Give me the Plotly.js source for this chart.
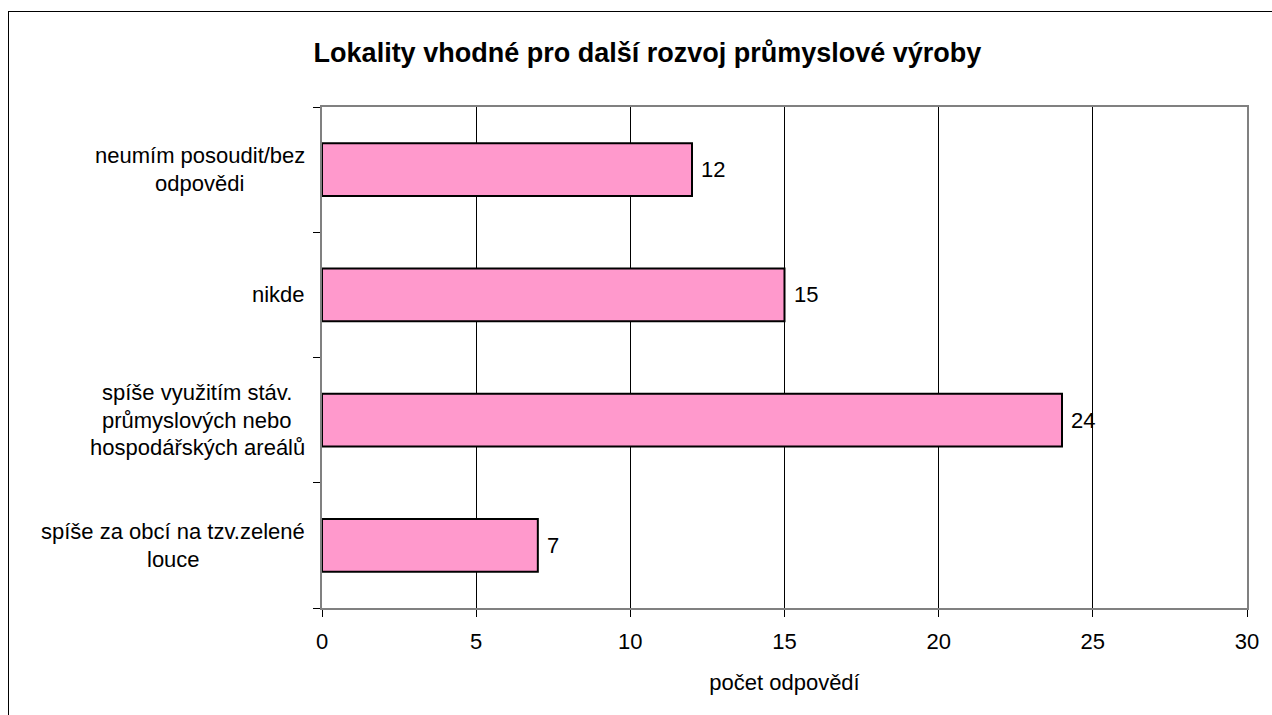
<!DOCTYPE html>
<html>
<head>
<meta charset="utf-8">
<script src="https://cdn.plot.ly/plotly-3.0.1.min.js"></script>
<style>
html,body{margin:0;padding:0;background:#fff;overflow:hidden;}
#frame{position:absolute;left:8px;top:11px;width:1300px;height:760px;border:1.5px solid #000;box-sizing:border-box;pointer-events:none;z-index:5;}
#chart{position:absolute;left:0;top:0;width:1272px;height:715px;}
</style>
</head>
<body>
<div id="chart"></div>
<div id="frame"></div>
<script>
const categories = [
  "spíše za obcí na tzv.zelené<br>louce",
  "spíše využitím stáv.<br>průmyslových nebo<br>hospodářských areálů",
  "nikde",
  "neumím posoudit/bez<br>odpovědi"
];
const values = [7, 24, 15, 12];
const xTicks = [0, 5, 10, 15, 20, 25, 30];
const titleText = "Lokality vhodné pro další rozvoj průmyslové výroby";
const xTitle = "počet odpovědí";

const font = "Liberation Sans, Arial, sans-serif";
const labelSize = 22;
const lineGap = 27.5;

const trace = {
  type: "bar",
  orientation: "h",
  y: categories,
  x: values,
  width: 0.42,
  marker: {color: "#FF99CC", line: {color: "#000", width: 2}},
  hoverinfo: "none"
};

const ctx = document.createElement("canvas").getContext("2d");
ctx.font = labelSize + "px 'Liberation Sans', Arial, sans-serif";

const annotations = [];
categories.forEach((c) => {
  const lines = c.split("<br>");
  const maxW = Math.max(...lines.map(l => ctx.measureText(l).width));
  lines.forEach((l, i) => {
    annotations.push({
      xref: "paper", yref: "y", x: 0, y: c,
      xshift: -17 - maxW / 2, yshift: ((lines.length - 1) / 2 - i) * lineGap,
      xanchor: "center", yanchor: "middle", align: "center",
      text: l, showarrow: false,
      font: {family: font, size: labelSize, color: "#000"}
    });
  });
});
// value labels
categories.forEach((c, i) => {
  annotations.push({
    xref: "x", yref: "y", x: values[i], y: c, xshift: 7,
    xanchor: "left", yanchor: "middle",
    text: String(values[i]), showarrow: false,
    font: {family: font, size: labelSize, color: "#000"}
  });
});

const layout = {
  width: 1272, height: 715,
  margin: {l: 322, r: 25, t: 107, b: 107},
  paper_bgcolor: "#fff", plot_bgcolor: "#fff",
  showlegend: false,
  title: {text: "<b>" + titleText + "</b>", font: {family: font, size: 27, color: "#000"},
          x: 0.509, xanchor: "center", y: 0.927, yanchor: "middle"},
  xaxis: {
    range: [0, 30], tickvals: xTicks, ticktext: xTicks.map(String),
    showgrid: true, gridcolor: "#000", gridwidth: 1, zeroline: false,
    showline: true, linecolor: "#808080", linewidth: 2, mirror: true,
    ticks: "outside", ticklen: 7, tickcolor: "#000", tickwidth: 1,
    ticklabelstandoff: 6,
    tickfont: {family: font, size: labelSize, color: "#000"},
    title: {text: xTitle, font: {family: font, size: labelSize, color: "#000"}, standoff: 21},
    fixedrange: true
  },
  yaxis: {
    type: "category", categoryorder: "array", categoryarray: categories,
    showticklabels: false, showgrid: false, zeroline: false,
    showline: true, linecolor: "#808080", linewidth: 2, mirror: true,
    ticks: "outside", tickson: "boundaries", ticklen: 7, tickcolor: "#000", tickwidth: 1,
    fixedrange: true
  },
  annotations: annotations
};

Plotly.newPlot("chart", [trace], layout, {staticPlot: true, displayModeBar: false});
</script>
</body>
</html>
